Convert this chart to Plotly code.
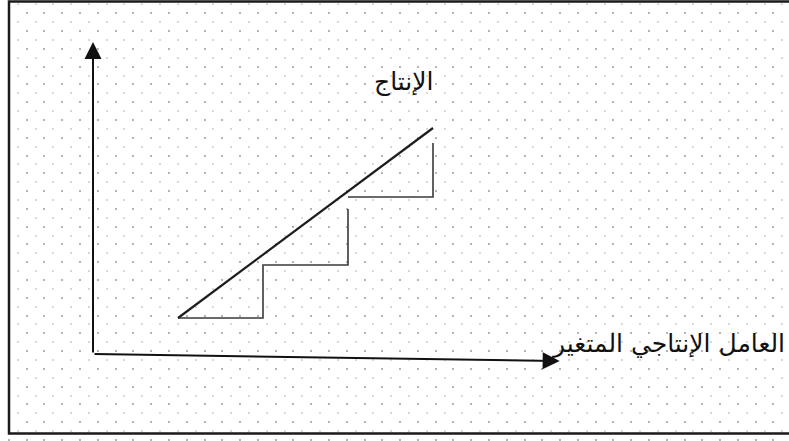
import plotly.graph_objects as go

# ---- data (variable input units on x, output units on y) ----
product_x = [1.0, 4.0]
product_y = [3.6, 22.6]
steps_x = [1.0, 2.0, 2.0, 3.0, 3.0, None, 3.0, 4.0, 4.0]
steps_y = [3.6, 3.6, 8.9, 8.9, 14.5, None, 15.7, 15.7, 21.1]
origin = [0.0, 0.0]
y_axis_tip = [0.0, 31.2]
x_axis_tip = [5.49, -0.7]
label_output = "الإنتاج"
label_input = "العامل الإنتاجي المتغير"

W, H = 789, 441
X_RANGE = [-1.0941, 8.1882]
Y_RANGE = [-8.7, 35.4]

fig = go.Figure()

fig.add_trace(go.Scatter(x=steps_x, y=steps_y, mode="lines",
                         line=dict(color="#3a3a3a", width=1.6),
                         hoverinfo="skip", showlegend=False))
fig.add_trace(go.Scatter(x=product_x, y=product_y, mode="lines",
                         line=dict(color="#1e1e1e", width=2.2),
                         hoverinfo="skip", showlegend=False))

# axes with arrows
for tip in (y_axis_tip, x_axis_tip):
    fig.add_annotation(x=tip[0], y=tip[1], ax=origin[0], ay=origin[1],
                       xref="x", yref="y", axref="x", ayref="y",
                       text="", showarrow=True, arrowhead=2, arrowsize=1.7,
                       arrowwidth=2, arrowcolor="#111", standoff=0, startstandoff=0)

fig.add_annotation(x=3.65, y=27.2, text=label_output, showarrow=False,
                   xref="x", yref="y", xanchor="center", yanchor="middle",
                   font=dict(family="DejaVu Sans", size=25, color="#111"))
fig.add_annotation(x=8.17, y=1.1, text=label_input, showarrow=False,
                   xref="x", yref="y", xanchor="right", yanchor="middle",
                   font=dict(family="DejaVu Sans", size=25, color="#111"))

# outer frame
fig.add_shape(type="rect", xref="paper", yref="paper",
              x0=9 / W, x1=1.02, y0=1 - 433.5 / H, y1=1 - 1.5 / H,
              line=dict(color="#1a1a1a", width=2.5))

px = 85.0  # pixels per x unit
fig.update_xaxes(range=X_RANGE, showticklabels=False, ticks="", zeroline=False,
                 showline=False, showgrid=True, tick0=(26.7 - 93) / px, dtick=17.78 / px,
                 gridcolor="#b4b4b4", gridwidth=2, griddash="0px,12.3px,2px,3.48px",
                 minor=dict(showgrid=True, tick0=(17.8 - 93) / px, dtick=17.78 / px,
                            gridcolor="#d8d8d8", gridwidth=2,
                            griddash="0px,3.44px,2px,12.34px"))
fig.update_yaxes(range=Y_RANGE, showticklabels=False, ticks="", zeroline=False,
                 showline=False, showgrid=False)

fig.update_layout(width=W, height=H, margin=dict(l=0, r=0, t=0, b=0),
                  paper_bgcolor="white", plot_bgcolor="white", showlegend=False)

fig.write_html("out.html", config={"displayModeBar": False},
               post_script="document.body.style.margin='0';document.body.style.overflow='hidden';")
